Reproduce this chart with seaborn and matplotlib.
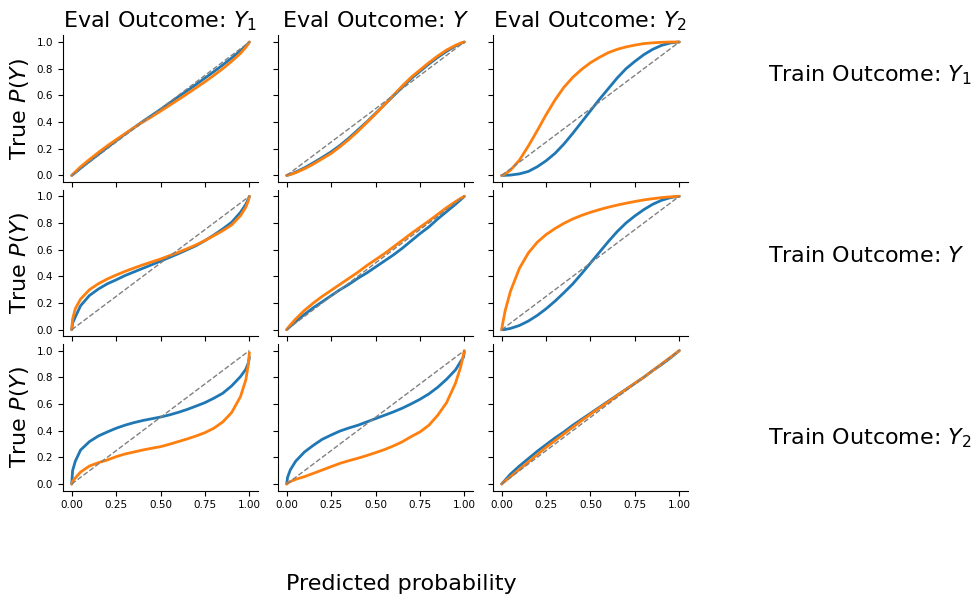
import matplotlib
matplotlib.use("Agg")
import matplotlib.pyplot as plt
import pandas as pd
import seaborn as sns


TRAIN_OUTCOMES = ["$Y_1$", "$Y$", "$Y_2$"]
EVAL_OUTCOMES = ["$Y_1$", "$Y$", "$Y_2$"]
MODELS = ["blue", "orange"]

PRED = [0, 0.005, 0.02, 0.05, 0.1, 0.15, 0.2, 0.25, 0.3, 0.35, 0.4, 0.45, 0.5,
        0.55, 0.6, 0.65, 0.7, 0.75, 0.8, 0.85, 0.9, 0.95, 0.98, 0.995, 1.0]
DIAGONAL = [0, 1]

# true P(Y) per (train outcome, eval outcome)
TRUE_Y1_Y1_BLUE = [0, 0.005, 0.021, 0.054, 0.107, 0.158, 0.21, 0.26, 0.31, 0.358, 0.405, 0.45, 0.495,
                   0.542, 0.59, 0.635, 0.682, 0.73, 0.778, 0.828, 0.88, 0.935, 0.97, 0.992, 1.0]
TRUE_Y1_Y1_ORANGE = [0, 0.007, 0.027, 0.065, 0.12, 0.172, 0.222, 0.268, 0.313, 0.357, 0.40, 0.44, 0.482,
                     0.525, 0.568, 0.612, 0.657, 0.702, 0.75, 0.80, 0.855, 0.915, 0.96, 0.988, 1.0]
TRUE_Y1_Y_BLUE = [0, 0.002, 0.008, 0.025, 0.057, 0.095, 0.135, 0.177, 0.225, 0.28, 0.34, 0.40, 0.465,
                  0.53, 0.595, 0.66, 0.725, 0.78, 0.835, 0.885, 0.93, 0.97, 0.99, 0.998, 1.0]
TRUE_Y1_Y_ORANGE = [0, 0.002, 0.007, 0.02, 0.05, 0.085, 0.125, 0.165, 0.215, 0.27, 0.33, 0.395, 0.46,
                    0.53, 0.60, 0.67, 0.735, 0.79, 0.845, 0.895, 0.94, 0.975, 0.992, 0.998, 1.0]
TRUE_Y1_Y2_BLUE = [0, 0.0, 0.001, 0.003, 0.012, 0.03, 0.065, 0.11, 0.165, 0.235, 0.315, 0.40, 0.485,
                   0.57, 0.65, 0.73, 0.80, 0.855, 0.905, 0.945, 0.975, 0.993, 0.998, 1.0, 1.0]
TRUE_Y1_Y2_ORANGE = [0, 0.002, 0.012, 0.04, 0.115, 0.22, 0.335, 0.455, 0.565, 0.66, 0.735, 0.795, 0.845,
                     0.885, 0.92, 0.945, 0.963, 0.977, 0.988, 0.994, 0.998, 1.0, 1.0, 1.0, 1.0]

TRUE_Y_Y1_BLUE = [0, 0.05, 0.095, 0.18, 0.257, 0.305, 0.344, 0.374, 0.406, 0.433, 0.46, 0.487, 0.514,
                  0.542, 0.57, 0.60, 0.63, 0.668, 0.71, 0.755, 0.805, 0.88, 0.94, 0.98, 1.0]
TRUE_Y_Y1_ORANGE = [0, 0.08, 0.157, 0.23, 0.30, 0.345, 0.38, 0.41, 0.437, 0.462, 0.486, 0.508, 0.53,
                    0.555, 0.58, 0.607, 0.636, 0.668, 0.705, 0.742, 0.785, 0.855, 0.918, 0.97, 1.0]
TRUE_Y_Y_BLUE = [0, 0.007, 0.025, 0.06, 0.115, 0.165, 0.21, 0.255, 0.30, 0.34, 0.385, 0.425, 0.47,
                 0.515, 0.56, 0.61, 0.665, 0.72, 0.77, 0.83, 0.885, 0.94, 0.975, 0.993, 1.0]
TRUE_Y_Y_ORANGE = [0, 0.01, 0.035, 0.08, 0.145, 0.20, 0.25, 0.295, 0.34, 0.385, 0.43, 0.48, 0.525,
                   0.57, 0.62, 0.67, 0.72, 0.768, 0.815, 0.865, 0.915, 0.96, 0.985, 0.996, 1.0]
TRUE_Y_Y2_BLUE = [0, 0.0, 0.002, 0.01, 0.032, 0.065, 0.107, 0.157, 0.214, 0.277, 0.343, 0.42, 0.50,
                  0.58, 0.66, 0.735, 0.80, 0.853, 0.90, 0.94, 0.97, 0.99, 0.997, 1.0, 1.0]
TRUE_Y_Y2_ORANGE = [0, 0.04, 0.144, 0.29, 0.46, 0.575, 0.655, 0.713, 0.758, 0.797, 0.83, 0.857, 0.88,
                    0.90, 0.918, 0.934, 0.948, 0.961, 0.973, 0.982, 0.99, 0.996, 0.999, 1.0, 1.0]

TRUE_Y2_Y1_BLUE = [0, 0.10, 0.17, 0.255, 0.318, 0.36, 0.39, 0.418, 0.441, 0.46, 0.476, 0.489, 0.502,
                   0.518, 0.537, 0.559, 0.584, 0.61, 0.643, 0.68, 0.735, 0.805, 0.86, 0.91, 0.95]
TRUE_Y2_Y1_ORANGE = [0, 0.02, 0.045, 0.09, 0.135, 0.16, 0.18, 0.205, 0.225, 0.24, 0.255, 0.268, 0.28,
                     0.298, 0.318, 0.338, 0.36, 0.385, 0.418, 0.465, 0.535, 0.655, 0.78, 0.905, 0.985]
TRUE_Y2_Y_BLUE = [0, 0.05, 0.105, 0.17, 0.24, 0.29, 0.335, 0.367, 0.397, 0.42, 0.44, 0.465, 0.49,
                  0.515, 0.54, 0.568, 0.60, 0.635, 0.675, 0.725, 0.785, 0.855, 0.92, 0.95, 0.99]
TRUE_Y2_Y_ORANGE = [0, 0.005, 0.018, 0.035, 0.055, 0.08, 0.105, 0.13, 0.155, 0.175, 0.193, 0.213, 0.235,
                    0.258, 0.285, 0.316, 0.355, 0.39, 0.44, 0.515, 0.61, 0.755, 0.88, 0.97, 1.0]
TRUE_Y2_Y2_BLUE = [0, 0.008, 0.03, 0.075, 0.135, 0.19, 0.245, 0.295, 0.345, 0.39, 0.44, 0.485, 0.53,
                   0.575, 0.62, 0.665, 0.71, 0.755, 0.80, 0.85, 0.895, 0.945, 0.978, 0.994, 1.0]
TRUE_Y2_Y2_ORANGE = [0, 0.006, 0.023, 0.055, 0.11, 0.165, 0.22, 0.275, 0.325, 0.375, 0.425, 0.475, 0.523,
                     0.57, 0.615, 0.662, 0.708, 0.755, 0.80, 0.85, 0.90, 0.95, 0.98, 0.995, 1.0]

CURVES = [
    [(TRUE_Y1_Y1_BLUE, TRUE_Y1_Y1_ORANGE), (TRUE_Y1_Y_BLUE, TRUE_Y1_Y_ORANGE), (TRUE_Y1_Y2_BLUE, TRUE_Y1_Y2_ORANGE)],
    [(TRUE_Y_Y1_BLUE, TRUE_Y_Y1_ORANGE), (TRUE_Y_Y_BLUE, TRUE_Y_Y_ORANGE), (TRUE_Y_Y2_BLUE, TRUE_Y_Y2_ORANGE)],
    [(TRUE_Y2_Y1_BLUE, TRUE_Y2_Y1_ORANGE), (TRUE_Y2_Y_BLUE, TRUE_Y2_Y_ORANGE), (TRUE_Y2_Y2_BLUE, TRUE_Y2_Y2_ORANGE)],
]

X_TICKS = [0, 0.25, 0.5, 0.75, 1.0]
Y_TICKS = [0, 0.2, 0.4, 0.6, 0.8, 1.0]

PALETTE = {"blue": "#1f77b4", "orange": "#ff7f0e"}


def build_frame():
    rows = []
    for i, train in enumerate(TRAIN_OUTCOMES):
        for j, evl in enumerate(EVAL_OUTCOMES):
            for model, values in zip(MODELS, CURVES[i][j]):
                for p, t in zip(PRED, values):
                    rows.append({"row": i, "col": j, "model": model, "pred": p, "true": t})
    return pd.DataFrame(rows)


def main():
    sns.set_style("ticks", {
        "text.color": "black",
        "axes.labelcolor": "black",
        "axes.edgecolor": "black",
        "xtick.color": "black",
        "ytick.color": "black",
    })
    plt.rcParams["font.family"] = ["DejaVu Sans"]
    df = build_frame()

    fig, axes = plt.subplots(3, 3, figsize=(9.77, 5.99), dpi=100, sharex=True, sharey=True)
    fig.subplots_adjust(left=0.0643, right=0.7044, top=0.941, bottom=0.1808,
                        wspace=0.1, hspace=0.051)

    for i in range(3):
        for j in range(3):
            ax = axes[i, j]
            sub = df[(df["row"] == i) & (df["col"] == j)]
            sns.lineplot(data=sub, x="pred", y="true", hue="model", palette=PALETTE,
                         linewidth=2, legend=False, ax=ax, estimator=None, sort=False)
            ax.plot(DIAGONAL, DIAGONAL, ls="--", color="grey", lw=1)
            ax.set_xlabel("")
            ax.set_ylabel("")
            ax.set_xticks(X_TICKS)
            ax.set_yticks(Y_TICKS)
            ax.tick_params(labelsize=7.5)
            if i == 0:
                ax.set_title(f"Eval Outcome: {EVAL_OUTCOMES[j]}", fontsize=16)
            if j == 0:
                ax.set_ylabel("True $P(Y)$", fontsize=16)
    axes[0, 0].set_xlim(-0.05, 1.05)
    axes[0, 0].set_ylim(-0.05, 1.05)
    axes[0, 0].xaxis.set_major_formatter(matplotlib.ticker.FormatStrFormatter("%.2f"))
    axes[0, 0].yaxis.set_major_formatter(matplotlib.ticker.FormatStrFormatter("%.1f"))
    sns.despine(fig=fig)

    for y, train in zip([0.8748, 0.5726, 0.2688], TRAIN_OUTCOMES):
        fig.text(0.786, y, f"Train Outcome: {train}", fontsize=16, ha="left", va="center")
    fig.text(0.411, 0.015, "Predicted probability", fontsize=16, ha="center", va="baseline")

    fig.savefig("out.png", dpi=100)
    plt.close(fig)


if __name__ == "__main__":
    main()
